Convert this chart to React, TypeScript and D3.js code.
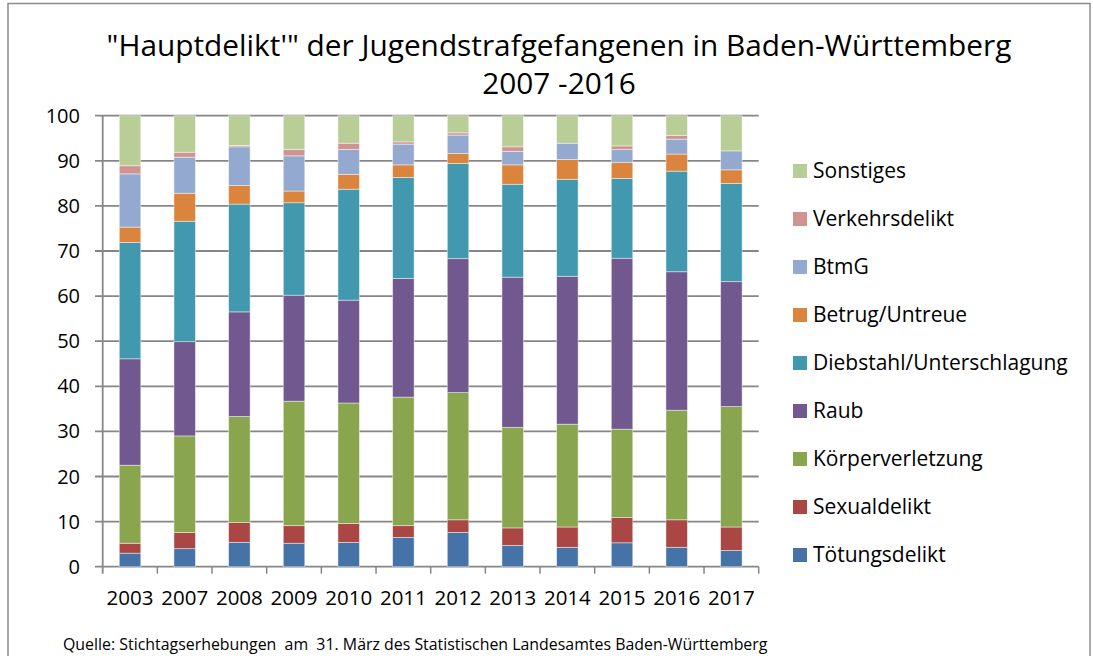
import React from "react";
import * as d3 from "d3";

const years = ["2003", "2007", "2008", "2009", "2010", "2011", "2012", "2013", "2014", "2015", "2016", "2017"];
const seriesNames = ["Tötungsdelikt", "Sexualdelikt", "Körperverletzung", "Raub", "Diebstahl/Unterschlagung", "Betrug/Untreue", "BtmG", "Verkehrsdelikt", "Sonstiges"];
const seriesColors = ["#4572A7", "#AA4643", "#89A54E", "#71588F", "#4198AF", "#DB843D", "#93A9CF", "#D19392", "#B9CD96"];

const toetung = [3.0, 4.0, 5.4, 5.2, 5.4, 6.5, 7.6, 4.7, 4.3, 5.3, 4.3, 3.6];
const sexual = [2.2, 3.6, 4.4, 3.9, 4.2, 2.6, 2.8, 3.9, 4.5, 5.6, 6.1, 5.2];
const koerper = [17.3, 21.4, 23.5, 27.6, 26.7, 28.5, 28.2, 22.3, 22.8, 19.6, 24.3, 26.7];
const raub = [23.6, 20.9, 23.2, 23.5, 22.8, 26.3, 29.7, 33.3, 32.8, 37.9, 30.7, 27.7];
const diebstahl = [25.8, 26.7, 23.9, 20.5, 24.6, 22.4, 21.1, 20.6, 21.5, 17.7, 22.3, 21.8];
const betrug = [3.4, 6.2, 4.1, 2.6, 3.3, 2.8, 2.2, 4.3, 4.4, 3.5, 3.8, 3.0];
const btmg = [11.8, 8.0, 8.6, 7.8, 5.5, 4.6, 4.1, 3.0, 3.6, 2.9, 3.3, 4.2];
const verkehr = [1.8, 1.1, 0.3, 1.4, 1.4, 0.5, 0.5, 1.0, 0.0, 0.8, 0.8, 0.0];
const sonstiges = [11.1, 8.1, 6.6, 7.5, 6.1, 5.8, 3.8, 6.9, 6.1, 6.7, 4.4, 7.8];

const seriesValues = [toetung, sexual, koerper, raub, diebstahl, betrug, btmg, verkehr, sonstiges];
const yTicks = [0, 10, 20, 30, 40, 50, 60, 70, 80, 90, 100];

const W = 1093;
const H = 656;
const FONT = "'Open Sans', 'DejaVu Sans', sans-serif";

export default function App() {
  const x = d3.scaleBand<string>().domain(years).range([102.7, 758.7]).paddingInner(0.607).paddingOuter(0.3035);
  const y = d3.scaleLinear().domain([0, 100]).range([566.7, 115.7]);

  const table = years.map((yr, i) => {
    const row: any = { year: yr };
    seriesNames.forEach((s, k) => (row[s] = seriesValues[k][i]));
    return row;
  });
  const stacked = d3.stack<any>().keys(seriesNames)(table);

  const step = x.step();
  const x0 = x.range()[0];
  const x1 = x.range()[1];
  const gridColor = "#868686";

  return (
    <div style={{ position: "absolute", left: 0, top: 0 }}>
      <svg width={W} height={H} style={{ display: "block" }}>
        <rect x={0} y={0} width={W} height={H} fill="#fff" />
        <rect x={8} y={3.5} width={1082} height={700} fill="none" stroke="#8c8c8c" strokeWidth={1.5} />
        <text x={559} y={56} textAnchor="middle" fontFamily={FONT} fontSize={29.8} fill="#000">
          "Hauptdelikt'" der Jugendstrafgefangenen in Baden-Württemberg
        </text>
        <text x={559} y={94} textAnchor="middle" fontFamily={FONT} fontSize={29.8} fill="#000">
          2007 -2016
        </text>

        {yTicks.map((t) => (
          <g key={t}>
            <line x1={95} x2={x1} y1={y(t)} y2={y(t)} stroke={gridColor} strokeWidth={1.8} />
            <text x={80} y={y(t)} dy="0.35em" textAnchor="end" fontFamily={FONT} fontSize={20} fill="#000">
              {t}
            </text>
          </g>
        ))}
        <line x1={x0} x2={x0} y1={y(100)} y2={y(0) + 7} stroke={gridColor} strokeWidth={1.8} />
        {years.map((yr, i) => (
          <line key={yr} x1={x0 + step * (i + 1)} x2={x0 + step * (i + 1)} y1={y(0)} y2={y(0) + 7} stroke={gridColor} strokeWidth={1.5} />
        ))}

        {stacked.map((layer, k) => (
          <g key={seriesNames[k]} fill={seriesColors[k]}>
            {layer.map((d, i) =>
              d[1] - d[0] > 0 ? (
                <rect
                  key={i}
                  x={x(years[i])}
                  width={x.bandwidth()}
                  y={y(d[1])}
                  height={y(d[0]) - y(d[1])}
                  stroke="#ffffff"
                  strokeOpacity={0.55}
                  strokeWidth={0.8}
                />
              ) : null
            )}
          </g>
        ))}

        {years.map((yr) => (
          <text key={yr} x={(x(yr) as number) + x.bandwidth() / 2} y={605} textAnchor="middle" fontFamily={FONT} fontSize={20.5} fill="#000">
            {yr}
          </text>
        ))}

        {seriesNames
          .slice()
          .reverse()
          .map((s, j) => {
            const k = seriesNames.length - 1 - j;
            const cy = 171 + j * 48;
            return (
              <g key={s}>
                <rect x={793} y={cy - 7} width={14} height={14} fill={seriesColors[k]} />
                <text x={813} y={cy} dy="0.35em" fontFamily={FONT} fontSize={21} fill="#000">
                  {s}
                </text>
              </g>
            );
          })}

        <text x={63} y={650} fontFamily={FONT} fontSize={15.9} fill="#000" style={{ whiteSpace: "pre" }}>
          {"Quelle: Stichtagserhebungen  am  31. März des Statistischen Landesamtes Baden-Württemberg"}
        </text>
      </svg>
    </div>
  );
}
